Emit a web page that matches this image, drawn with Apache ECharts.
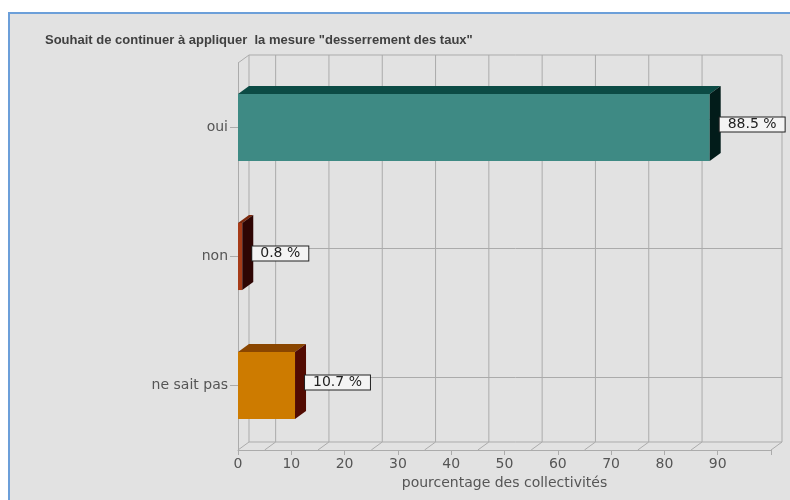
<!DOCTYPE html>
<html>
<head>
<meta charset="utf-8">
<script src="https://cdn.jsdelivr.net/npm/echarts@6/dist/echarts.min.js"></script>
<style>
  html, body { margin: 0; padding: 0; background: #fff; }
  #wrap { position: relative; width: 790px; height: 500px; overflow: hidden; }
  #panel {
    position: absolute; left: 8px; top: 12px; right: -4px; bottom: -4px;
    background: #e2e2e2;
    border-left: 2px solid #6c9fd9;
    border-top: 2px solid #6c9fd9;
  }
  #chart { position: absolute; left: 0; top: 0; width: 790px; height: 500px; }
</style>
</head>
<body>
<div id="wrap">
  <div id="panel"></div>
  <div id="chart"></div>
</div>
<script>
// données
const categories = ["oui", "non", "ne sait pas"];
const values = [88.5, 0.8, 10.7];
const frontColors = ["#3e8a84", "#a63b18", "#cd7b00"];
const topColors = ["#0c4b45", "#7c2a0e", "#8a4600"];
const sideColors = ["#021c1a", "#2e0503", "#520b02"];
// lignes du mur du fond
const wallLines = [5, 15, 25, 35, 45, 55, 65, 75, 85];

const DX = 11; // profondeur 3D
const DY = 8;
const gridColor = "#ababab";

const chart = echarts.init(document.getElementById("chart"));

const lineStyle = { stroke: gridColor, lineWidth: 1 };

const option = {
  animation: false,
  title: {
    text: 'Souhait de continuer à appliquer  la mesure "desserrement des taux"',
    left: 40,
    top: 29,
    textStyle: {
      fontFamily: "Liberation Sans, sans-serif",
      fontWeight: "bold",
      fontSize: 13,
      color: "#404040",
    },
  },
  grid: { left: 238, top: 63, width: 533, height: 387 },
  xAxis: {
    type: "value",
    min: 0,
    max: 100,
    interval: 10,
    name: "pourcentage des collectivités",
    nameLocation: "middle",
    nameGap: 24,
    nameTextStyle: { fontFamily: "DejaVu Sans", fontSize: 14, color: "#555" },
    axisLine: { show: true, lineStyle: { color: gridColor } },
    axisTick: { show: true, length: 5, lineStyle: { color: gridColor } },
    axisLabel: {
      fontFamily: "DejaVu Sans",
      fontSize: 14,
      color: "#555",
      margin: 7,
      formatter: (v) => (v >= 100 ? "" : v),
    },
    splitLine: { show: false },
  },
  yAxis: {
    type: "category",
    inverse: true,
    data: categories,
    axisLine: { show: true, lineStyle: { color: gridColor } },
    axisTick: { show: true, alignWithLabel: true, length: 8, lineStyle: { color: gridColor } },
    axisLabel: { fontFamily: "DejaVu Sans", fontSize: 14, color: "#555", margin: 10 },
    splitLine: { show: false },
  },
  series: [
    // cadre: fond, sol, mur gauche
    {
      type: "custom",
      z: 1,
      silent: true,
      data: [[0, 0]],
      encode: { x: 0, y: 1 },
      renderItem: (params, api) => {
        const cs = params.coordSys;
        const left = api.coord([0, 0])[0];
        const right = api.coord([100, 0])[0];
        const top = cs.y;
        const bottom = cs.y + cs.height;
        return {
          type: "group",
          children: [
            { type: "rect", shape: { x: left + DX, y: top - DY, width: right - left, height: cs.height }, style: { fill: null, ...lineStyle } },
            { type: "line", shape: { x1: left, y1: top, x2: left + DX, y2: top - DY }, style: lineStyle },
            { type: "line", shape: { x1: left, y1: bottom, x2: left + DX, y2: bottom - DY }, style: lineStyle },
            { type: "line", shape: { x1: right, y1: bottom, x2: right + DX, y2: bottom - DY }, style: lineStyle },
          ],
        };
      },
    },
    // lignes verticales du mur + diagonales du sol
    {
      type: "custom",
      z: 1,
      silent: true,
      data: wallLines.map((v) => [v, 0]),
      encode: { x: 0, y: 1 },
      renderItem: (params, api) => {
        const cs = params.coordSys;
        const x = api.coord([api.value(0), 0])[0];
        const top = cs.y;
        const bottom = cs.y + cs.height;
        return {
          type: "group",
          children: [
            { type: "line", shape: { x1: x + DX, y1: top - DY, x2: x + DX, y2: bottom - DY }, style: lineStyle },
            { type: "line", shape: { x1: x, y1: bottom, x2: x + DX, y2: bottom - DY }, style: lineStyle },
          ],
        };
      },
    },
    // lignes horizontales du mur
    {
      type: "custom",
      z: 1,
      silent: true,
      data: categories.map((c, i) => [0, i]),
      encode: { x: 0, y: 1 },
      renderItem: (params, api) => {
        const p = api.coord([0, api.value(1)]);
        const right = api.coord([100, 0])[0];
        return {
          type: "line",
          shape: { x1: p[0] + DX, y1: p[1] - DY, x2: right + DX, y2: p[1] - DY },
          style: lineStyle,
        };
      },
    },
    // barres 3D
    {
      type: "custom",
      z: 5,
      data: values.map((v, i) => [v, i]),
      encode: { x: 0, y: 1 },
      renderItem: (params, api) => {
        const i = api.value(1);
        const v = api.value(0);
        const p0 = api.coord([0, i]);
        const p1 = api.coord([v, i]);
        const h = api.size([0, 1])[1] * 0.52;
        const x0 = p0[0];
        const x1 = p1[0];
        const yt = p0[1] - h / 2;
        const yb = p0[1] + h / 2;
        return {
          type: "group",
          children: [
            { type: "rect", shape: { x: x0, y: yt, width: x1 - x0, height: h }, style: { fill: frontColors[i] } },
            { type: "polygon", shape: { points: [[x0, yt], [x0 + DX, yt - DY], [x1 + DX, yt - DY], [x1, yt]] }, style: { fill: topColors[i] } },
            { type: "polygon", shape: { points: [[x1, yt], [x1 + DX, yt - DY], [x1 + DX, yb - DY], [x1, yb]] }, style: { fill: sideColors[i] } },
            {
              type: "text",
              x: x1 + DX - 1,
              y: p0[1] - 3,
              z2: 10,
              style: {
                text: v.toFixed(1) + " %",
                fontFamily: "DejaVu Sans",
                fontSize: 14,
                fill: "#222",
                align: "left",
                verticalAlign: "middle",
                backgroundColor: "#f4f4f4",
                borderColor: "#222",
                borderWidth: 1,
                padding: [0, 8, 0, 8],
              },
            },
          ],
        };
      },
    },
  ],
};

chart.setOption(option);
</script>
</body>
</html>
